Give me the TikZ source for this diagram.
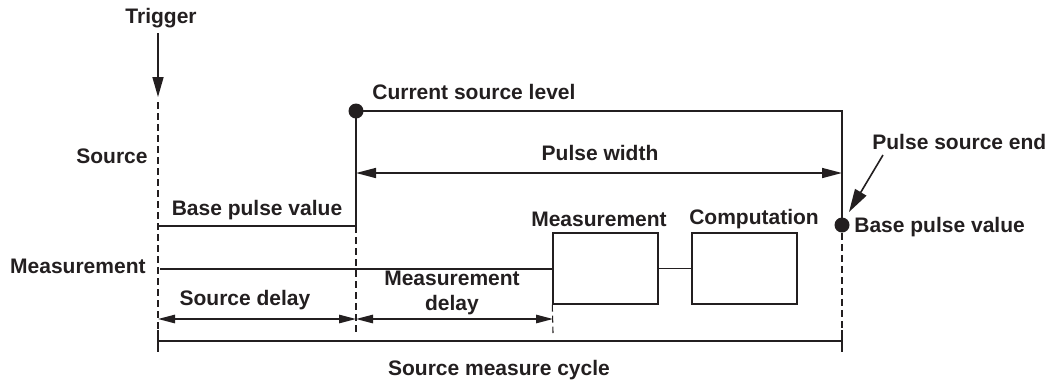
\documentclass[tikz,border=0pt]{standalone}
\usepackage{fontspec}
\setmainfont{Liberation Sans}
\usetikzlibrary{
	positioning,
	arrows.meta
}
\definecolor{ink}{HTML}{231F20}

\begin{document}
\begin{tikzpicture}[x=0.5pt,y=-0.5pt,color=ink,
	lbl/.style={font=\bfseries\fontsize{10.5}{12.5}\selectfont,inner sep=0pt},
	guide/.style={line width=0.55pt,dash pattern=on 3.5pt off 2pt},
	sig/.style={line width=1.2pt},
	dim/.style={line width=0.8pt,{Triangle[length=8.5pt,width=4.2pt]}-{Triangle[length=8.5pt,width=4.2pt]}},
	blk/.style={draw,line width=0.7pt,minimum width=52.5pt,minimum height=35.5pt,inner sep=0pt},
	dot/.style={circle,fill,inner sep=0pt,minimum size=7.5pt}]

			\useasboundingbox (0,0) rectangle (1061,382);

			\node[lbl] (trig) at (161,18) {Trigger};
			\node[lbl,anchor=east] (srclbl) at (148,156) {Source};
			\node[lbl,anchor=east] (measlbl) at (146,266) {Measurement};

			\coordinate (trgtop) at (158,33);
			\coordinate (trgtip) at (158,97);
			\coordinate (b0) at (158,226);
			\coordinate (b1) at (356,226);
			\coordinate (hiR) at (842,111);
			\node[dot] (hi) at (356,111) {};
			\node[dot] (lo) at (842,225) {};

			\node[blk] (meas) at (605.5,268.5) {};
			\node[blk] (comp) at (744.5,268.5) {};
			\coordinate (m0) at (160,268.5);

			\coordinate (cycL) at (158,341);
			\coordinate (cycR) at (842,341);

			% trigger and guides
			\draw[line width=0.8pt,-{Triangle[length=10pt,width=5.5pt]}] (trgtop) -- (trgtip);
			\draw[guide] (158,102) -- (158,330);
			\draw[guide] (b1) -- (356,333);
			\draw[guide] (meas.south west) -- (553,333);
			\draw[guide] (lo) -- (842,330);

			% pulse
			\draw[sig] (b0) -- (b1) -- (hi.center) -- (hiR) -- (lo.center);
			\node[lbl,anchor=west] (lvl) at (372,92) {Current source level};
			\node[lbl] (blL) at (257,210) {Base pulse value};
			\node[lbl,anchor=west] (blR) at (854,227) {Base pulse value};
			\node[lbl,anchor=west] (pend) at (872,142) {Pulse source end};
			\coordinate (pendtip) at (849,212);
			\coordinate (pendtail) at (883,155);
			\draw[line width=0.8pt,-{Triangle[length=11.5pt,width=6.5pt]}] (pendtail) -- (pendtip);

			% pulse width
			\coordinate (pwL) at (356,173);
			\coordinate (pwR) at (842,173);
			\draw[dim,{Triangle[length=10pt,width=5pt]}-{Triangle[length=10pt,width=5pt]}] (pwL) -- (pwR);
			\node[lbl] (pw) at (600,153) {Pulse width};

			% measurement
			\draw[line width=1pt] (m0) -- (meas.west);
			\draw[line width=0.8pt] (meas) -- (comp);
			\node[lbl] (measttl) at (599,219) {Measurement};
			\node[lbl] (compttl) at (754,219) {Computation};

			% delays
			\coordinate (d0) at (158,319);
			\coordinate (d1) at (356,319);
			\coordinate (d2) at (553,319);
			\draw[dim] (d0) -- (d1);
			\draw[dim] (d1) -- (d2);
			\node[lbl] (sd) at (245,300) {Source delay};
			\node[lbl,align=center] (md) at (452,293) {Measurement\\delay};

			% cycle
			\draw[line width=1.1pt] (cycL) -- (cycR);
			\draw[line width=0.8pt] (158,330) -- (158,352);
			\draw[line width=0.8pt] (842,330) -- (842,352);
			\node[lbl] (cyc) at (499,370) {Source measure cycle};

\end{tikzpicture}
\end{document}
